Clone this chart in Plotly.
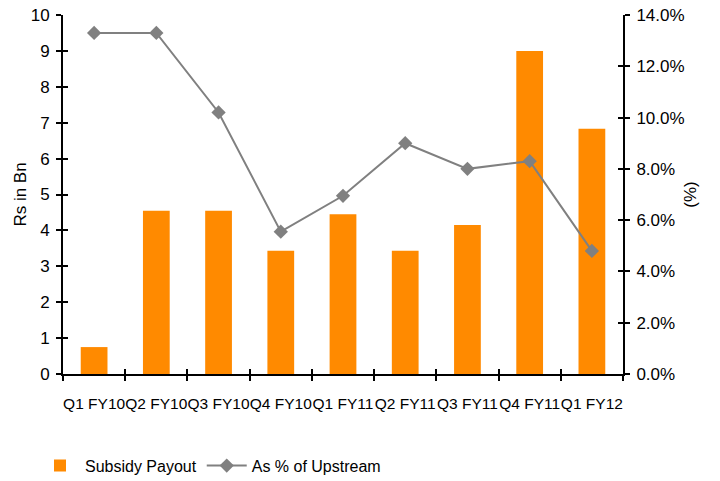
import plotly.graph_objects as go

# Quarterly subsidy payout (Rs Bn) and the same payout as a share of upstream
quarters = ["Q1 FY10", "Q2 FY10", "Q3 FY10", "Q4 FY10", "Q1 FY11",
            "Q2 FY11", "Q3 FY11", "Q4 FY11", "Q1 FY12"]
subsidy_payout = [0.75, 4.55, 4.55, 3.43, 4.45, 3.43, 4.15, 9.0, 6.83]
pct_of_upstream = [13.3, 13.3, 10.2, 5.55, 6.95, 9.0, 8.0, 8.3, 4.8]

left_ticks = list(range(0, 11))
right_ticks = [0, 2, 4, 6, 8, 10, 12, 14]
right_labels = [f"{v:.1f}%" for v in right_ticks]

FONT = "Liberation Sans, Arial, sans-serif"
ORANGE = "#FF8A00"
GREY = "#808080"

fig = go.Figure()
fig.add_trace(go.Bar(
    x=quarters, y=subsidy_payout, name="Subsidy Payout",
    marker=dict(color=ORANGE, line=dict(width=0)),
    xaxis="x", yaxis="y",
))
fig.add_trace(go.Scatter(
    x=quarters, y=pct_of_upstream, name="As % of Upstream",
    mode="lines+markers",
    line=dict(color=GREY, width=2),
    marker=dict(symbol="diamond", size=11, color=GREY),
    xaxis="x", yaxis="y2",
))

axis_font = dict(family=FONT, size=17, color="#000000")
x_font = dict(family=FONT, size=15.5, color="#000000")

fig.update_layout(
    width=720, height=481,
    margin=dict(l=63, r=97, t=15, b=107, autoexpand=False),
    paper_bgcolor="white", plot_bgcolor="white",
    font=dict(family=FONT, size=16, color="#000000"),
    bargap=0.57,
    showlegend=True,
    legend=dict(
        orientation="h", x=-0.05, xanchor="left", y=-0.208, yanchor="top",
        font=dict(family=FONT, size=16, color="#000000"),
        itemwidth=40, tracegroupgap=0, bgcolor="rgba(0,0,0,0)",
    ),
    xaxis=dict(
        type="category", showgrid=False, zeroline=False, automargin=False,
        showline=True, linecolor="#000000", linewidth=2,
        ticks="outside", ticklen=5, tickwidth=2, tickcolor="#000000",
        tickson="boundaries", tickfont=x_font, tickangle=0,
        ticklabelstandoff=14,
        range=[-0.5, len(quarters) - 0.5],
    ),
    # duplicate axis drawing the inner half of the crossing tick marks
    xaxis2=dict(
        type="category", overlaying="x", matches="x", side="bottom",
        showline=False, showgrid=False, zeroline=False, automargin=False,
        ticks="inside", ticklen=5, tickwidth=2, tickcolor="#000000",
        tickson="boundaries", showticklabels=False,
    ),
    yaxis=dict(
        range=[0, 10], tickvals=left_ticks, showgrid=False, zeroline=False,
        showline=True, linecolor="#000000", linewidth=2, automargin=False,
        ticks="outside", ticklen=5, tickwidth=2, tickcolor="#000000",
        tickfont=axis_font, ticklabelstandoff=3,
        title=dict(text="Rs in Bn", font=axis_font, standoff=0),
    ),
    yaxis3=dict(
        range=[0, 10], tickvals=left_ticks, overlaying="y", side="left",
        showline=False, showgrid=False, zeroline=False, automargin=False,
        ticks="inside", ticklen=5, tickwidth=2, tickcolor="#000000",
        showticklabels=False,
    ),
    yaxis2=dict(
        range=[0, 14], tickvals=right_ticks, ticktext=right_labels,
        overlaying="y", side="right", showgrid=False, zeroline=False,
        showline=True, linecolor="#000000", linewidth=2, automargin=False,
        ticks="outside", ticklen=5, tickwidth=2, tickcolor="#000000",
        tickfont=axis_font, ticklabelstandoff=3,
        title=dict(text="(%)", font=axis_font, standoff=0),
    ),
    yaxis4=dict(
        range=[0, 14], tickvals=right_ticks, overlaying="y", side="right",
        showline=False, showgrid=False, zeroline=False, automargin=False,
        ticks="inside", ticklen=5, tickwidth=2, tickcolor="#000000",
        showticklabels=False,
    ),
)

# invisible traces so the tick-only overlay axes get drawn
fig.add_trace(go.Scatter(x=[quarters[0]], y=[0], xaxis="x2", yaxis="y3",
                         mode="markers", marker=dict(opacity=0),
                         showlegend=False, hoverinfo="skip"))
fig.add_trace(go.Scatter(x=[quarters[0]], y=[0], xaxis="x2", yaxis="y4",
                         mode="markers", marker=dict(opacity=0),
                         showlegend=False, hoverinfo="skip"))

fig.write_html("out.html")
